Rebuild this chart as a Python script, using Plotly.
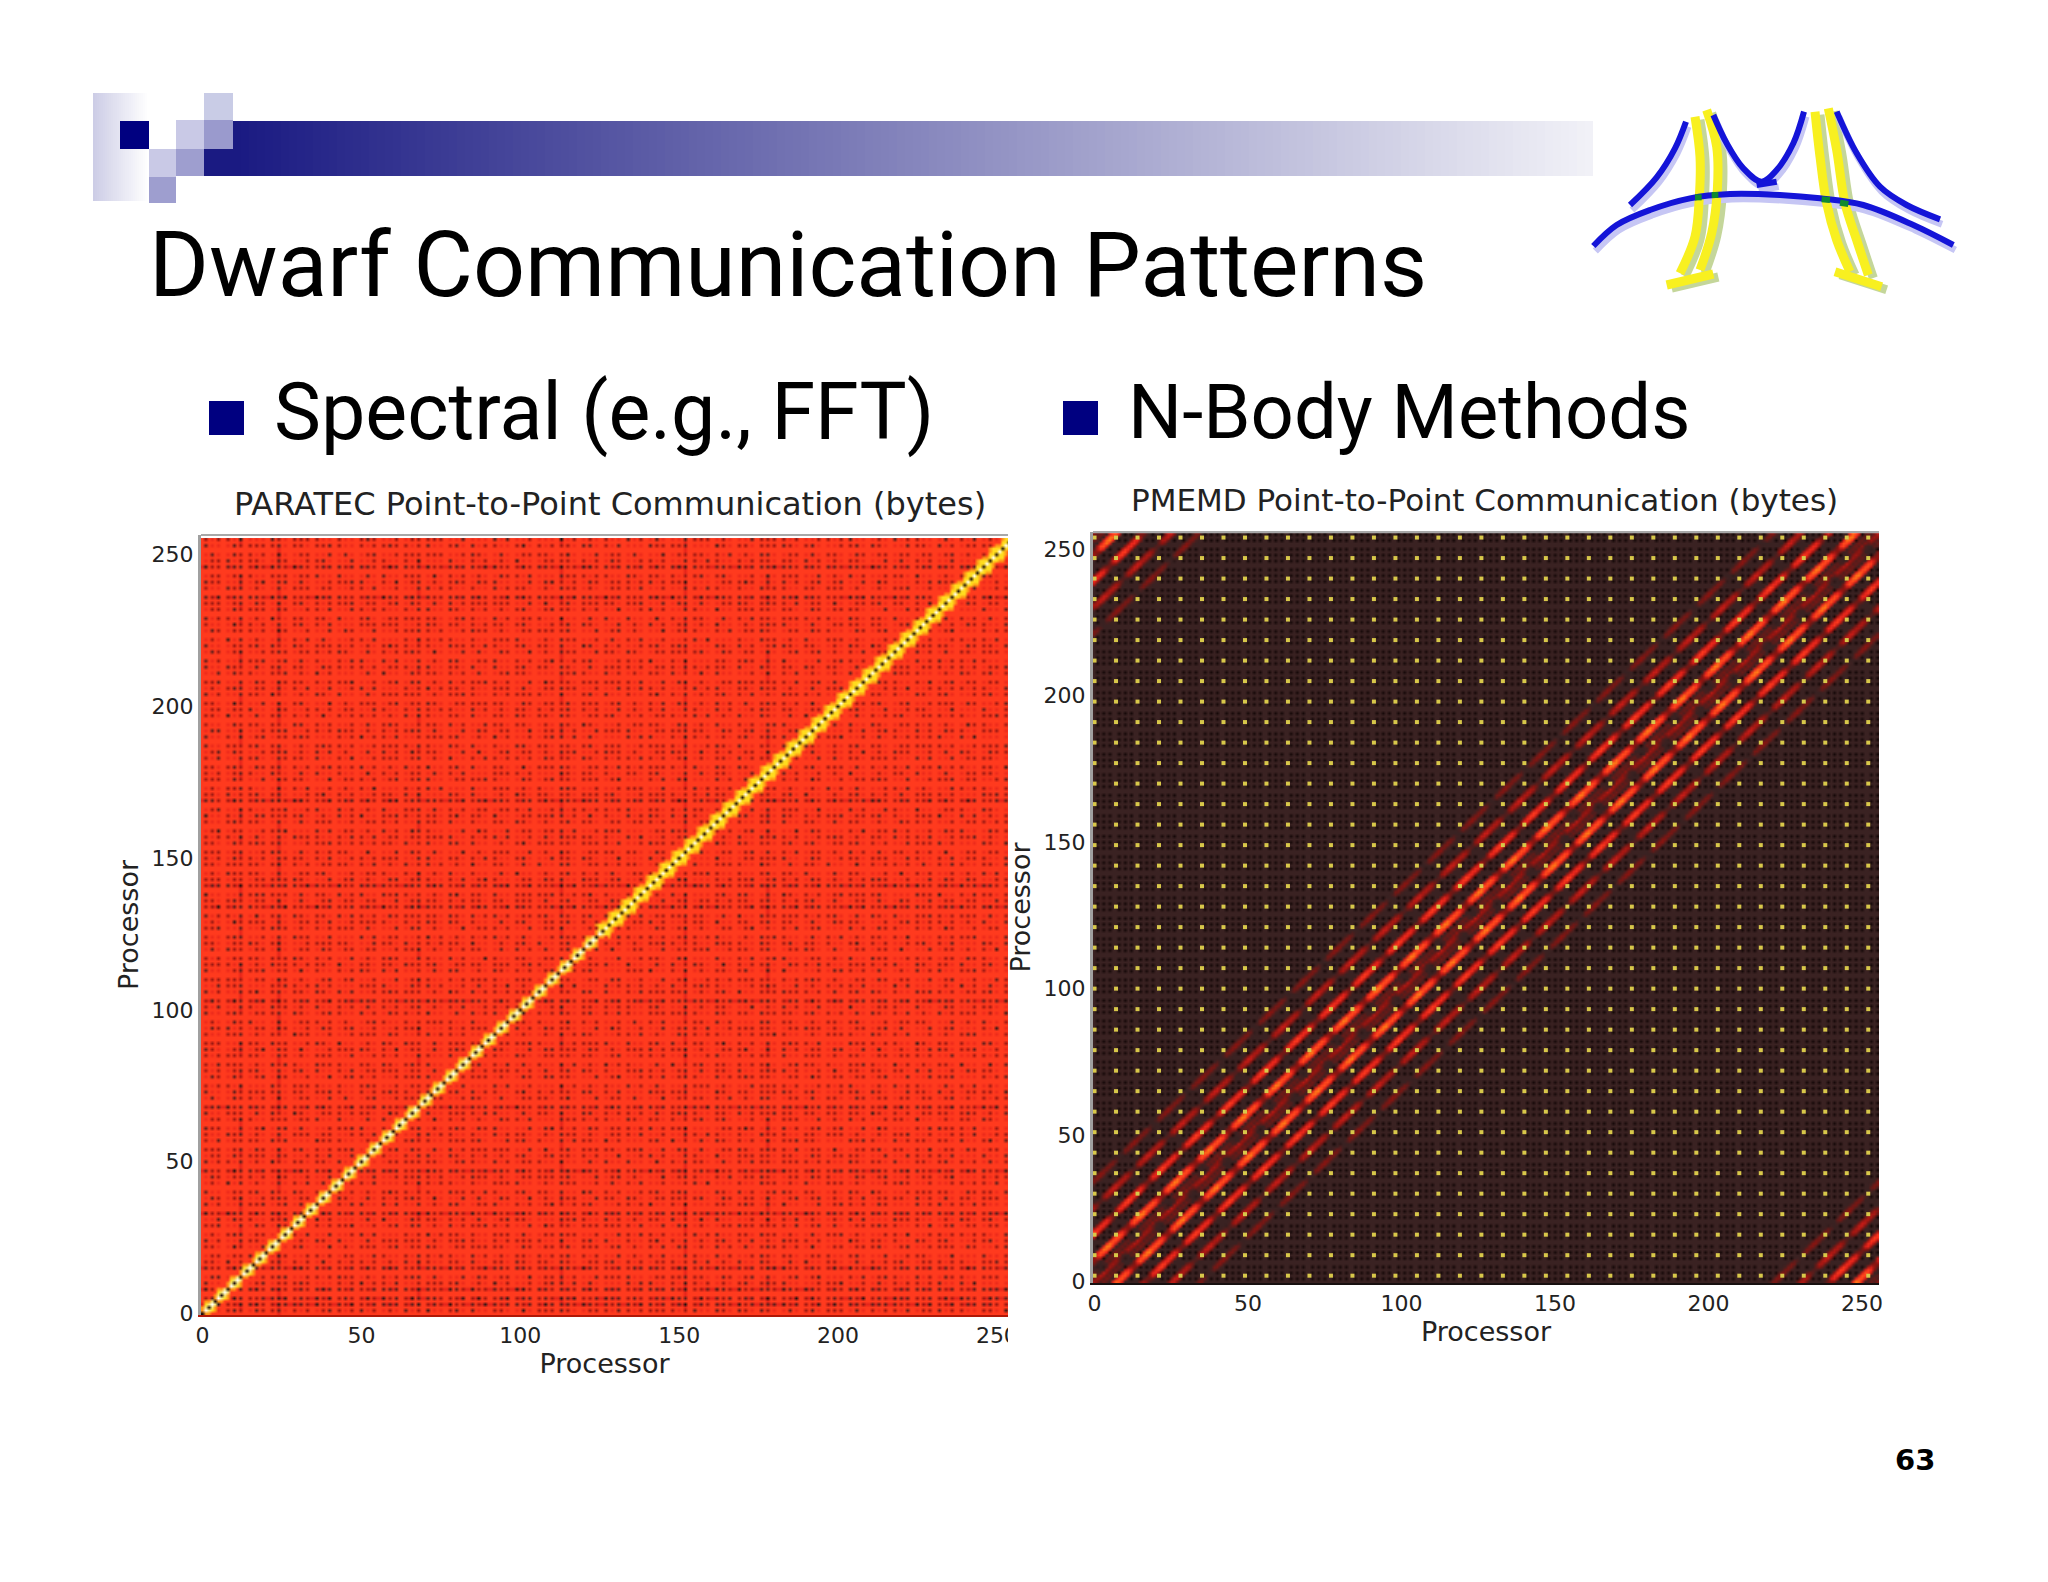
import numpy as np
import plotly.graph_objects as go

# ---------- page text ----------
slide_title = "Dwarf Communication Patterns"
bullet_left = "Spectral (e.g., FFT)"
bullet_right = "N-Body Methods"
chart_title_left = "PARATEC Point-to-Point Communication (bytes)"
chart_title_right = "PMEMD Point-to-Point Communication (bytes)"
axis_label = "Processor"
page_number = "63"
tick_values = [0, 50, 100, 150, 200, 250]

# ---------- PARATEC values ----------
n_proc = 256
paratec_base = 0.61
mesh_cycle = [0, 1, 0, 1, 0, 1, 0]
paratec_tile_a = [
    "0100200110100",
    "1010010200101",
    "0020100001020",
    "1001100100100",
    "2000010120010",
    "0110020001010",
    "1000100101002",
    "0102000100100",
    "0100101000200",
    "1000200010101",
    "1010010002000",
]
paratec_tile_b = [
    "100100010",
    "001000100",
    "010010001",
    "100000110",
    "000101000",
    "011000001",
    "000010100",
]
paratec_streak_rows = [3, 5, 8, 14, 15, 30, 33, 47, 62, 68, 74, 88, 103, 118, 128, 133, 134, 139, 141, 160, 169,
                       175, 191, 198, 209, 210, 228, 236, 246]
paratec_streak_cols = [12, 24, 41, 42, 67, 68, 88, 112, 113, 135, 152, 178, 200, 214, 238]
paratec_speck_drop = [-0.07, -0.24, -0.38, -0.50, -0.55, -0.58, -0.60]
paratec_dash_drop = -0.09
paratec_diag_halfwidth = [1, 2, 3, 2]
paratec_diag_wider_from = 125
paratec_center_levels = [0.05, 1.0]
paratec_near_center_level = 0.92
paratec_inner_level = 0.86
paratec_edge_level = 0.76

# ---------- PMEMD values ----------
pmemd_base = 0.17
pmemd_speck = 0.03
pmemd_dot_cols = list(range(0, 256, 7))
pmemd_dot_rows = list(range(2, 256, 7))
pmemd_offset_levels = {0: 0.38, 1: 0.32, 2: 0.22, 3: 0.27, 4: 0.22,
                       6: 0.46, 7: 0.62, 8: 0.64, 9: 0.48,
                       15: 0.36, 16: 0.52, 17: 0.54, 18: 0.38,
                       24: 0.28, 25: 0.40, 26: 0.40, 27: 0.28,
                       33: 0.20, 34: 0.30, 35: 0.30, 36: 0.20}
pmemd_dash_cycle = [1, 1, 1, 1.08, 1.08, 1.12, 1.12, 1.08, 1, 1, 1, 1, 1, 1, 0.95, 0.85, 0.72, 0.6, 0.55, 0.55, 0.68, 0.88]

# ---------- decoration (page pixels) ----------
logo_origin = (1580, 90)
logo_scale = 3
logo_blue = [
    [(150, 345), (230, 262), (285, 175), (318, 95)],
    [(400, 75), (440, 160), (490, 235), (545, 275), (590, 240), (640, 160), (672, 65)],
    [(770, 65), (830, 190), (900, 290), (980, 345), (1080, 388)],
    [(40, 468), (110, 405), (210, 360), (330, 325), (450, 312), (600, 315), (720, 325),
     (850, 345), (1000, 405), (1120, 465)],
    [(530, 285), (590, 275)],
]
logo_yellow = [
    [(345, 80), (360, 200), (358, 320), (345, 440), (300, 550)],
    [(380, 60), (410, 170), (412, 300), (395, 430), (360, 540)],
    [(705, 65), (720, 200), (740, 340), (770, 450), (810, 545)],
    [(745, 55), (770, 180), (795, 340), (830, 450), (865, 555)],
    [(260, 585), (400, 552)],
    [(765, 545), (905, 590)],
]
logo_green = [[(345, 322), (365, 322)], [(395, 315), (415, 315)], [(725, 328), (750, 330)], [(780, 338), (805, 342)]]
flat_squares = [
    (120, 121, 149, 149, "#000080"),
    (149, 149, 176, 177, "#c9c9e6"),
    (149, 177, 176, 203, "#9e9ecf"),
    (176, 120, 204, 149, "#c9c9e6"),
    (176, 149, 204, 176, "#9e9ecf"),
    (204, 93, 233, 120, "#c9cce6"),
    (204, 120, 233, 149, "#9a9acd"),
    (209, 401, 244, 435, "#000080"),
    (1063, 401, 1098, 435, "#000080"),
]

W, H = 2048, 1582
L = dict(x0=201, x1=1008, y0=535, y1=1315)
R = dict(x0=1093, x1=1879, y0=532, y1=1283)


def paratec_matrix():
    z = np.full((n_proc, n_proc), paratec_base)
    for r in range(n_proc):
        for c in range(n_proc):
            gr, gc = (r // 7) * 3 + r % 7 // 2, (c // 7) * 3 + c % 7 // 2
            a = int(paratec_tile_a[gr % 11][gc % 13])
            if mesh_cycle[r % 7] and mesh_cycle[c % 7]:
                score = a + int(paratec_tile_b[gr % 7][gc % 9])
                score += (r in paratec_streak_rows) + (c in paratec_streak_cols)
                z[r, c] += paratec_speck_drop[score]
            elif a and ((r in paratec_streak_rows and mesh_cycle[r % 7]) or (c in paratec_streak_cols and mesh_cycle[c % 7])):
                z[r, c] += paratec_dash_drop
            d = abs(r - c)
            mid = (r + c) // 2
            high = mid > paratec_diag_wider_from
            hw = paratec_diag_halfwidth[mid % 4] + (1 if high else 0)
            if d == 0:
                z[r, c] = paratec_center_levels[r % 2]
            elif d < hw:
                z[r, c] = paratec_near_center_level if (d == 1 and not high) else paratec_inner_level
            elif d == hw:
                z[r, c] = paratec_edge_level
    return z


def pmemd_matrix():
    z = np.full((n_proc, n_proc), pmemd_base)
    for r in range(n_proc):
        for c in range(n_proc):
            if mesh_cycle[r % 7] and mesh_cycle[c % 7]:
                z[r, c] = pmemd_speck
            d = abs(r - c)
            d = min(d, n_proc - d)
            if d in pmemd_offset_levels:
                phase = (r + c + (11 if r > c else 0)) % 22
                z[r, c] = max(z[r, c], pmemd_offset_levels[d] * pmemd_dash_cycle[phase])
    return z


heat_scale = [
    [0.00, "#0e0404"], [0.17, "#3a2222"], [0.35, "#8c1410"], [0.50, "#e0201a"],
    [0.61, "#ff3a1e"], [0.74, "#ff8a14"], [0.86, "#ffdc1e"], [0.96, "#f2eeb0"], [1.00, "#ffffff"],
]

fig = go.Figure()
fig.add_trace(go.Heatmap(z=paratec_matrix(), colorscale=heat_scale, zmin=0, zmax=1, zsmooth="fast",
                         showscale=False, xaxis="x", yaxis="y"))
fig.add_trace(go.Heatmap(z=pmemd_matrix(), colorscale=heat_scale, zmin=0, zmax=1, zsmooth="fast",
                         showscale=False, xaxis="x2", yaxis="y2"))
dot_x, dot_y = np.meshgrid(pmemd_dot_cols, pmemd_dot_rows)
fig.add_trace(go.Scatter(x=dot_x.ravel(), y=dot_y.ravel(), mode="markers", xaxis="x2", yaxis="y2",
                         marker=dict(symbol="square", size=4, color="#d8c84a", line=dict(width=0)),
                         showlegend=False, hoverinfo="skip"))

# header gradients
bar_x = np.linspace(233, 1593, 171)
fig.add_trace(go.Heatmap(x=bar_x, y=[121, 176], z=[np.linspace(0, 1, 170)] * 1, showscale=False, zmin=0, zmax=1,
                         colorscale=[[0, "#1a1a82"], [1, "#f1f1f7"]], xaxis="x3", yaxis="y3", hoverinfo="skip"))
fig.add_trace(go.Heatmap(x=[204, 233], y=[149, 176], z=[[0]], showscale=False, zmin=0, zmax=1,
                         colorscale=[[0, "#1a1a82"], [1, "#1a1a82"]], xaxis="x3", yaxis="y3", hoverinfo="skip"))
fade_x = np.linspace(93, 149, 29)
fig.add_trace(go.Heatmap(x=fade_x, y=[93, 201], z=[np.linspace(0, 1, 28)], showscale=False, zmin=0, zmax=1,
                         colorscale=[[0, "#cdcde6"], [1, "#ffffff"]], xaxis="x3", yaxis="y3", hoverinfo="skip"))


def logo_line(points, color, width, dx=0, dy=0):
    fig.add_trace(go.Scatter(
        x=[logo_origin[0] + p[0] / logo_scale + dx for p in points],
        y=[logo_origin[1] + p[1] / logo_scale + dy for p in points],
        mode="lines", line=dict(color=color, width=width, shape="spline"),
        xaxis="x3", yaxis="y3", showlegend=False, hoverinfo="skip"))


for pts in logo_yellow:
    logo_line(pts, "#c4d69a", 9, 5, 3)
for pts in logo_blue:
    logo_line(pts, "#c6c6f4", 7, 2, 5)
for pts in logo_yellow:
    logo_line(pts, "#f8f020", 9)
for pts in logo_blue:
    logo_line(pts, "#1414d8", 6)
for pts in logo_green:
    logo_line(pts, "#108a30", 6)

shapes = [dict(type="rect", xref="x3", yref="y3", x0=a, y0=b, x1=c, y1=d, fillcolor=col,
               line=dict(width=0), layer="above") for a, b, c, d, col in flat_squares]
# clipped corner of the left chart's last x label, and top edges of both images
shapes.append(dict(type="rect", xref="x3", yref="y3", x0=1008, y0=1316, x1=1040, y1=1360,
                   fillcolor="white", line=dict(width=0), layer="above"))
for box in (L, R):
    shapes.append(dict(type="line", xref="x3", yref="y3", x0=box["x0"], x1=box["x1"], y0=box["y0"], y1=box["y0"],
                       line=dict(color="#a8a8a8", width=2), layer="above"))

tick_font = dict(family="DejaVu Sans", size=22, color="#222222")
title_font = dict(family="DejaVu Sans", size=27, color="#222222")


def common_axis():
    return dict(tickvals=tick_values, ticks="", tickfont=tick_font, showgrid=False, zeroline=False,
                automargin=False)


def x_axis(box, rng, anchor, line):
    return dict(common_axis(), domain=[box["x0"] / W, box["x1"] / W], range=rng, anchor=anchor,
                showline=True, linecolor=line, linewidth=2,
                title=dict(text=axis_label, font=title_font, standoff=4))


def y_axis(box, rng, anchor):
    return dict(common_axis(), domain=[1 - box["y1"] / H, 1 - box["y0"] / H], range=rng, anchor=anchor,
                showline=True, linecolor="#a0a0a0", linewidth=3,
                title=dict(text=axis_label, font=title_font, standoff=6))


def note(text, x, y, size, family, anchor="left", color="#000000", bold=False):
    return dict(text=f"<b>{text}</b>" if bold else text, xref="x3", yref="y3", x=x, y=y, showarrow=False,
                xanchor=anchor, yanchor="middle", font=dict(family=family, size=size, color=color),
                xshift=0, yshift=0)


annotations = [
    note(slide_title, 147, 264, 91.4, "Roboto"),
    note(bullet_left, 272, 412, 79, "Roboto"),
    note(bullet_right, 1126, 412, 76, "Roboto"),
    note(chart_title_left, 610, 504, 32, "DejaVu Sans", "center", "#222222"),
    note(chart_title_right, 1484, 500, 31, "DejaVu Sans", "center", "#222222"),
    note(page_number, 1915, 1460, 29, "DejaVu Sans", "center", bold=True),
]

fig.update_layout(
    width=W, height=H, autosize=False, margin=dict(l=0, r=0, t=0, b=0),
    paper_bgcolor="white", plot_bgcolor="rgba(0,0,0,0)", showlegend=False,
    xaxis=x_axis(L, [-0.5, 253.5], "y", "#b01808"),
    yaxis=y_axis(L, [-0.5, 256.5], "x"),
    xaxis2=x_axis(R, [-0.5, 255.5], "y2", "#181010"),
    yaxis2=y_axis(R, [-0.5, 255.9], "x2"),
    xaxis3=dict(domain=[0, 1], range=[0, W], visible=False, anchor="y3", fixedrange=True),
    yaxis3=dict(domain=[0, 1], range=[H, 0], visible=False, anchor="x3", fixedrange=True),
    shapes=shapes, annotations=annotations,
)
fig.write_html("out.html", config=dict(displayModeBar=False),
               post_script="document.body.style.margin='0';document.documentElement.style.overflow='hidden';")
